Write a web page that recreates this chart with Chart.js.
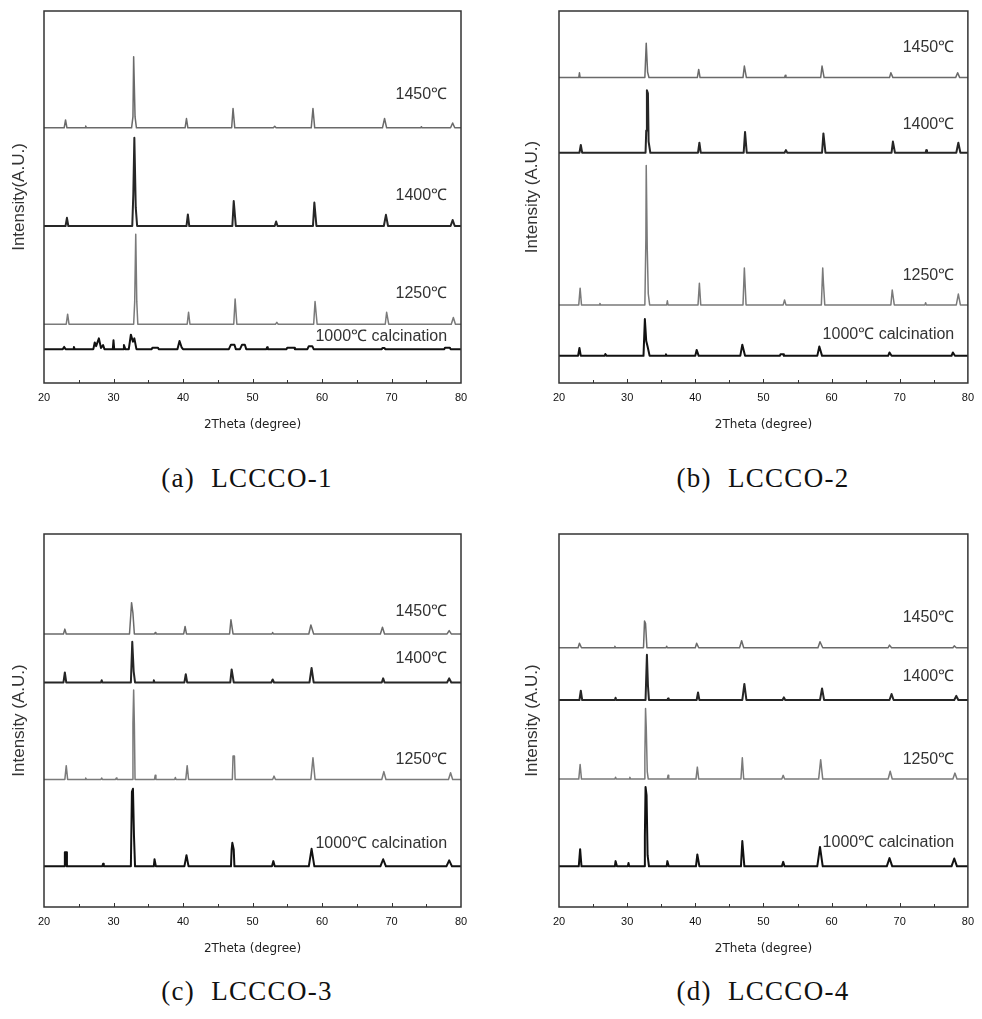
<!DOCTYPE html>
<html>
<head>
<meta charset="utf-8">
<script src="https://cdn.jsdelivr.net/npm/chart.js@4.4.1/dist/chart.umd.min.js"></script>
<style>
  body { margin: 0; background: #fff; width: 982px; height: 1019px; position: relative; overflow: hidden; }
  canvas { position: absolute; }
  .cap { position: absolute; width: 300px; text-align: center; white-space: pre; letter-spacing: 1.3px;
         font-family: "Liberation Serif", "DejaVu Serif", serif; font-size: 27px; color: #111; }
</style>
</head>
<body>
<canvas id="chartA" width="491" height="460" style="left:0;top:0"></canvas>
<canvas id="chartB" width="491" height="460" style="left:491px;top:0"></canvas>
<canvas id="chartC" width="491" height="460" style="left:0;top:510px"></canvas>
<canvas id="chartD" width="491" height="460" style="left:491px;top:510px"></canvas>
<div class="cap" style="left:97px;top:463px">(a)  LCCCO-1</div>
<div class="cap" style="left:613px;top:463px">(b)  LCCCO-2</div>
<div class="cap" style="left:97px;top:976px">(c)  LCCCO-3</div>
<div class="cap" style="left:613px;top:976px">(d)  LCCCO-4</div>
<script>
// trace names (top to bottom)
var temps = ['1450℃', '1400℃', '1250℃', '1000℃ calcination'];

// baseline offset of each trace, per panel (a.u.)
var offsetsA = [68.6, 42.2, 15.8, 9.1];
var offsetsB = [82.1, 61.9, 21.0, 7.3];
var offsetsC = [73.2, 60.2, 34.2, 10.9];
var offsetsD = [69.5, 55.5, 34.3, 10.9];

// [2theta, intensity above baseline]
var a1450 = [[20,0],[22.9,0],[23.1,2.1],[23.3,0],[25.9,0],[26.0,0.5],[26.1,0],[32.6,0],[32.8,3],[32.9,19.1],[33.1,3],[33.3,0],[40.3,0],[40.5,2.5],[40.7,0],[47.0,0],[47.2,5.2],[47.45,0],[53.0,0],[53.2,0.4],[53.4,0],[58.45,0],[58.7,5.2],[58.95,0],[68.7,0],[69.0,2.5],[69.3,0],[74.2,0],[74.3,0.3],[74.4,0],[78.5,0],[78.8,1.3],[79.1,0],[80,0]];
var a1400 = [[20,0],[23.1,0],[23.3,2.2],[23.5,0],[32.7,0],[32.85,8.5],[33.0,23.7],[33.2,5],[33.4,0],[40.5,0],[40.7,3.1],[40.9,0],[47.1,0],[47.3,6.7],[47.6,0],[53.2,0],[53.4,1.2],[53.6,0],[58.7,0],[58.9,6.3],[59.2,0],[68.9,0],[69.2,3.0],[69.5,0],[78.5,0],[78.8,1.6],[79.1,0],[80,0]];
var a1250 = [[20,0],[23.2,0],[23.4,2.7],[23.6,0],[32.9,0],[33.05,6],[33.2,24.2],[33.35,6],[33.5,0],[40.6,0],[40.8,3.2],[41.0,0],[47.3,0],[47.5,6.8],[47.75,0],[53.3,0],[53.5,0.5],[53.7,0],[58.8,0],[59.0,6.1],[59.3,0],[69.1,0],[69.3,3.2],[69.6,0],[78.6,0],[78.9,1.8],[79.2,0],[80,0]];
var a1000 = [[20,0],[22.7,0],[22.9,0.6],[23.1,0],[24.2,0],[24.3,0.6],[24.4,0],[27.1,0],[27.3,1.8],[27.5,0.8],[27.9,2.9],[28.2,0.3],[28.5,1.1],[28.7,0],[29.9,0],[30.0,2.4],[30.1,0],[31.4,0],[31.5,1.1],[31.7,0],[32.2,0],[32.5,3.9],[32.8,2.0],[33.0,2.9],[33.3,0],[35.5,0],[35.6,0.4],[36.4,0.4],[36.5,0],[39.2,0],[39.5,2.2],[39.8,0.5],[40.0,0],[46.6,0],[46.9,1.2],[47.4,1.2],[47.6,0],[48.2,0],[48.5,1.2],[48.9,1.2],[49.1,0],[52.0,0],[52.1,0.5],[52.2,0],[54.9,0],[55.0,0.4],[56.0,0.4],[56.1,0],[57.9,0],[58.1,0.8],[58.6,0.8],[58.8,0],[68.6,0],[68.7,0.3],[69.0,0.3],[69.1,0],[77.6,0],[77.7,0.4],[78.4,0.4],[78.5,0],[80,0]];

var b1450 = [[20,0],[22.9,0],[23.0,1.3],[23.1,0],[32.6,0],[32.8,9.2],[33.0,1.5],[33.2,0],[40.3,0],[40.5,2.2],[40.7,0],[47.0,0],[47.2,3.1],[47.5,0],[53.1,0],[53.2,0.6],[53.3,0],[58.4,0],[58.6,3.1],[58.9,0],[68.5,0],[68.7,1.3],[69.0,0],[78.2,0],[78.5,1.3],[78.8,0],[80,0]];
var b1400 = [[20,0],[23.0,0],[23.2,2.1],[23.4,0],[32.7,0],[32.8,6],[32.9,16.8],[33.05,16],[33.15,3],[33.4,0],[40.4,0],[40.6,2.7],[40.8,0],[47.1,0],[47.3,5.6],[47.55,0],[53.1,0],[53.3,0.7],[53.5,0],[58.6,0],[58.8,5.2],[59.1,0],[68.8,0],[69.0,3.0],[69.3,0],[73.8,0],[73.9,0.7],[74.0,0],[78.3,0],[78.6,2.7],[78.9,0],[80,0]];
var b1250 = [[20,0],[22.9,0],[23.1,4.5],[23.3,0],[25.9,0],[26.0,0.4],[26.1,0],[32.6,0],[32.75,18],[32.8,37.5],[32.95,15],[33.1,3],[33.3,0],[35.8,0],[35.9,1.1],[36.0,0],[40.4,0],[40.6,5.8],[40.8,0],[47.0,0],[47.2,9.9],[47.45,0],[52.9,0],[53.1,1.3],[53.3,0],[58.5,0],[58.7,9.9],[58.8,6],[59.0,0],[68.7,0],[68.9,4.0],[69.2,0],[73.7,0],[73.8,0.6],[73.9,0],[78.3,0],[78.6,2.9],[78.9,0],[80,0]];
var b1000 = [[20,0],[22.8,0],[23.0,2.1],[23.2,0],[26.7,0],[26.8,0.5],[27.0,0],[32.4,0],[32.6,9.9],[32.8,4],[33.0,2.5],[33.3,0],[35.6,0],[35.7,0.4],[35.8,0],[40.0,0],[40.2,1.6],[40.5,0],[46.6,0],[46.9,3.0],[47.3,0],[52.4,0],[52.5,0.4],[52.9,0.4],[53.0,0],[57.9,0],[58.2,2.5],[58.6,0],[68.3,0],[68.5,0.9],[68.8,0],[77.6,0],[77.8,0.9],[78.1,0],[80,0]];

var c1450 = [[20,0],[22.8,0],[23.0,1.3],[23.2,0],[32.3,0],[32.5,5.5],[32.6,8.4],[32.8,5.5],[33.0,0],[35.9,0],[36.0,0.4],[36.1,0],[40.1,0],[40.3,2.0],[40.5,0],[46.7,0],[46.9,3.8],[47.2,0],[52.8,0],[52.9,0.4],[53.0,0],[58.1,0],[58.4,2.4],[58.8,0],[68.4,0],[68.7,1.8],[69.0,0],[78.0,0],[78.3,0.9],[78.6,0],[80,0]];
var c1400 = [[20,0],[22.8,0],[23.0,2.7],[23.2,0],[28.2,0],[28.3,0.6],[28.4,0],[32.5,0],[32.7,10.9],[32.9,3],[33.1,0],[35.7,0],[35.8,0.6],[35.9,0],[40.2,0],[40.4,2.2],[40.6,0],[46.8,0],[47.0,3.5],[47.3,0],[52.7,0],[52.9,0.8],[53.1,0],[58.2,0],[58.5,3.9],[58.8,0],[68.6,0],[68.8,1.1],[69.0,0],[78.0,0],[78.3,1.1],[78.6,0],[80,0]];
var c1250 = [[20,0],[23.0,0],[23.2,3.7],[23.4,0],[25.9,0],[26.0,0.4],[26.1,0],[28.2,0],[28.3,0.4],[28.4,0],[30.3,0],[30.4,0.4],[30.5,0],[32.7,0],[32.8,15],[32.9,24.0],[33.0,15],[33.1,0],[35.9,0],[36.0,1.1],[36.1,0],[38.8,0],[38.9,0.5],[39.0,0],[40.4,0],[40.6,3.7],[40.8,0],[47.1,0],[47.2,6.3],[47.4,6.3],[47.5,0],[52.9,0],[53.1,0.9],[53.3,0],[58.4,0],[58.7,5.8],[59.0,0],[68.6,0],[68.9,2.1],[69.2,0],[78.2,0],[78.5,1.8],[78.8,0],[80,0]];
var c1000 = [[20,0],[22.95,0],[23.0,3.8],[23.2,3.8],[23.3,0],[28.4,0],[28.5,0.7],[28.6,0],[32.5,0],[32.65,20],[32.8,20.8],[32.95,8],[33.1,0],[35.8,0],[35.9,1.9],[36.1,0],[40.2,0],[40.5,3.0],[40.8,0],[46.9,0],[47.0,4.5],[47.1,6.3],[47.3,4.5],[47.4,0],[52.8,0],[53.0,1.4],[53.2,0],[58.1,0],[58.5,4.7],[58.9,0],[68.4,0],[68.8,1.9],[69.2,0],[77.9,0],[78.3,1.6],[78.7,0],[80,0]];

var d1450 = [[20,0],[22.8,0],[23.0,1.2],[23.3,0],[28.1,0],[28.2,0.4],[28.3,0],[32.4,0],[32.55,7.2],[32.7,6.5],[32.9,0],[35.7,0],[35.8,0.4],[35.9,0],[40.0,0],[40.2,1.2],[40.5,0],[46.5,0],[46.8,1.9],[47.1,0],[58.0,0],[58.3,1.6],[58.7,0],[68.3,0],[68.5,0.7],[68.8,0],[77.8,0],[78.0,0.5],[78.3,0],[80,0]];
var d1400 = [[20,0],[23.0,0],[23.2,2.5],[23.4,0],[28.2,0],[28.3,0.6],[28.4,0],[32.7,0],[32.9,12.1],[33.05,4],[33.2,0],[35.9,0],[36.0,0.4],[36.1,0],[40.2,0],[40.4,2.0],[40.6,0],[46.9,0],[47.2,4.3],[47.5,0],[52.8,0],[53.0,0.7],[53.2,0],[58.3,0],[58.6,3.1],[58.9,0],[68.5,0],[68.8,1.6],[69.1,0],[78.0,0],[78.3,1.1],[78.6,0],[80,0]];
var d1250 = [[20,0],[22.9,0],[23.1,3.9],[23.3,0],[28.2,0],[28.3,0.5],[28.4,0],[30.3,0],[30.4,0.5],[30.5,0],[32.5,0],[32.6,6],[32.7,18.9],[32.8,14],[32.95,2],[33.1,0],[35.9,0],[36.0,1.0],[36.1,0],[40.1,0],[40.3,3.2],[40.5,0],[46.7,0],[46.9,5.7],[47.1,0],[52.7,0],[52.9,1.0],[53.1,0],[58.1,0],[58.4,5.2],[58.7,0],[68.3,0],[68.6,2.1],[68.9,0],[77.8,0],[78.1,1.6],[78.4,0],[80,0]];
var d1000 = [[20,0],[22.9,0],[23.1,4.6],[23.3,0],[28.2,0],[28.3,1.4],[28.5,0],[30.1,0],[30.2,0.9],[30.3,0],[32.5,0],[32.6,8],[32.7,21.3],[32.85,19],[33.0,3],[33.2,0],[35.8,0],[35.9,1.4],[36.1,0],[40.1,0],[40.3,3.2],[40.6,0],[46.7,0],[46.9,6.8],[47.2,0],[52.7,0],[52.9,1.2],[53.1,0],[57.9,0],[58.3,5.2],[58.7,0],[68.1,0],[68.5,2.2],[68.9,0],[77.6,0],[78.0,2.1],[78.4,0],[80,0]];

var xTicks = [20, 30, 40, 50, 60, 70, 80];

// styling per trace
var lineColors = ['#6a6a6a', '#262626', '#7a7a7a', '#111111'];
var lineWidths = [1.5, 2, 1.5, 2];

// inward ticks, plot frame and trace labels
var framePlugin = {
    id: 'frame',
    afterDatasetsDraw: function(chart) {
        var ctx = chart.ctx;
        var a = chart.chartArea;
        var xs = chart.scales.x;
        var ys = chart.scales.y;
        ctx.save();
        ctx.strokeStyle = '#333';
        ctx.lineWidth = 1.5;
        ctx.strokeRect(a.left, a.top, a.right - a.left, a.bottom - a.top);
        ctx.lineWidth = 1;
        for (var v = 25; v < 80; v += 5) {
            var px = Math.round(xs.getPixelForValue(v)) + 0.5;
            var len = (v % 10 === 0) ? 4 : 3;
            ctx.beginPath();
            ctx.moveTo(px, a.bottom);
            ctx.lineTo(px, a.bottom - len);
            ctx.stroke();
        }
        var lab = chart.options.plugins.frame;
        ctx.fillStyle = '#333';
        ctx.font = '16px "Liberation Sans", Arial, sans-serif';
        ctx.textAlign = 'right';
        ctx.textBaseline = 'middle';
        for (var i = 0; i < temps.length; i++) {
            ctx.fillText(temps[i], xs.getPixelForValue(lab.x), ys.getPixelForValue(lab.y[i]));
        }
        ctx.restore();
    }
};

function makeChart(id, traces, offsets, yTitle, pad, labelY) {
    var datasets = traces.map(function(t, i) {
        return {
            label: temps[i],
            data: t.map(function(p) { return { x: p[0], y: p[1] + offsets[i] }; }),
            borderColor: lineColors[i],
            borderWidth: lineWidths[i],
            borderJoinStyle: 'round',
            pointRadius: 0,
            tension: 0,
            fill: false
        };
    });
    return new Chart(document.getElementById(id).getContext('2d'), {
        type: 'line',
        data: { datasets: datasets },
        options: {
            responsive: false,
            animation: false,
            devicePixelRatio: 1,
            layout: { padding: pad.layout },
            plugins: {
                legend: { display: false },
                tooltip: { enabled: false },
                frame: { x: 78.0, y: labelY }
            },
            scales: {
                x: {
                    type: 'linear',
                    min: 20,
                    max: 80,
                    afterBuildTicks: function(s) { s.ticks = xTicks.map(function(v) { return { value: v }; }); },
                    afterFit: function(s) { s.height = 49; },
                    grid: { display: false, drawTicks: false },
                    border: { display: false },
                    ticks: { padding: 8, color: '#111', font: { family: 'Liberation Sans', size: 11 }, maxRotation: 0 },
                    title: { display: true, text: '2Theta (degree)', color: '#222', padding: 0,
                             font: { family: 'DejaVu Sans', size: 12 } }
                },
                y: {
                    min: 0,
                    max: 100,
                    afterFit: function(s) { s.width = pad.yWidth; },
                    grid: { display: false, drawTicks: false },
                    border: { display: false },
                    ticks: { display: false },
                    title: { display: true, text: yTitle, color: '#333', padding: 0,
                             font: { family: 'Liberation Sans', size: 17 } }
                }
            }
        },
        plugins: [framePlugin]
    });
}

var padLeft  = { layout: { left: 9, top: 11, right: 30, bottom: 28 }, yWidth: 35 };
var padRight = { layout: { left: 31, top: 11, right: 7, bottom: 28 }, yWidth: 37 };
var padLeftLow  = { layout: { left: 9, top: 24, right: 30, bottom: 14 }, yWidth: 35 };
var padRightLow = { layout: { left: 31, top: 24, right: 7, bottom: 14 }, yWidth: 37 };

makeChart('chartA', [a1450, a1400, a1250, a1000], offsetsA, 'Intensity(A.U.)', padLeft, [77.4, 50.5, 23.9, 12.4]);
makeChart('chartB', [b1450, b1400, b1250, b1000], offsetsB, 'Intensity (A.U.)', padRight, [90.1, 69.4, 29.0, 12.9]);
makeChart('chartC', [c1450, c1400, c1250, c1000], offsetsC, 'Intensity (A.U.)', padLeftLow, [79.3, 66.7, 39.6, 17.1]);
makeChart('chartD', [d1450, d1400, d1250, d1000], offsetsD, 'Intensity (A.U.)', padRightLow, [77.5, 61.9, 39.6, 17.4]);
</script>
</body>
</html>
